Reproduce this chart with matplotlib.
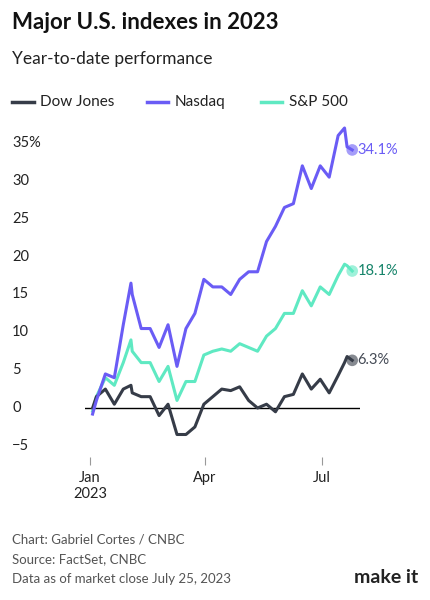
import matplotlib
matplotlib.use('Agg')
import matplotlib.pyplot as plt
import matplotlib.transforms as mtransforms
import numpy as np

plt.rcParams['font.family'] = ['Lato', 'DejaVu Sans']

dates = ['2023-01-03', '2023-01-06', '2023-01-13', '2023-01-20', '2023-01-27',
         '2023-02-02', '2023-02-03', '2023-02-10', '2023-02-17', '2023-02-24',
         '2023-03-03', '2023-03-10', '2023-03-17', '2023-03-24', '2023-03-31',
         '2023-04-07', '2023-04-14', '2023-04-21', '2023-04-28', '2023-05-05',
         '2023-05-12', '2023-05-19', '2023-05-26', '2023-06-02', '2023-06-09',
         '2023-06-16', '2023-06-23', '2023-06-30', '2023-07-07', '2023-07-14',
         '2023-07-19', '2023-07-21', '2023-07-25']
dow = [0, 1.5, 2.5, 0.5, 2.5, 3.0, 2.0, 1.5, 1.5, -1.0, 0.5, -3.5, -3.5, -2.5, 0.5,
       1.5, 2.5, 2.3, 2.8, 1.0, 0.0, 0.5, -0.5, 1.5, 1.8, 4.5, 2.5, 3.8, 2.0, 4.3,
       6.0, 6.8, 6.3]
nasdaq = [-0.8, 1.0, 4.5, 4.0, 11.0, 16.5, 15.0, 10.5, 10.5, 8.0, 11.0, 5.5, 10.5,
          12.5, 17.0, 16.0, 16.0, 15.0, 17.0, 18.0, 18.0, 22.0, 24.0, 26.5, 27.0,
          32.0, 29.0, 32.0, 30.5, 36.0, 37.0, 34.5, 34.1]
sp500 = [-0.4, 1.5, 4.0, 3.0, 6.0, 9.0, 7.5, 6.0, 6.0, 3.5, 5.5, 1.0, 3.5, 3.5, 7.0,
         7.5, 7.8, 7.5, 8.5, 8.0, 7.5, 9.5, 10.5, 12.5, 12.5, 15.5, 13.5, 16.0, 15.0,
         17.5, 19.0, 18.8, 18.1]
yticks = [-5, 0, 5, 10, 15, 20, 25, 30, 35]

x = np.array(dates, dtype='datetime64[D]')
c_dow, c_nas, c_sp = '#363c48', '#6a5cf5', '#5fe9c2'

fig = plt.figure(figsize=(4.31, 6.0), dpi=100)
ax = fig.add_axes([0.197, 0.238, 0.638, 0.555])
ax.set_xlim(np.datetime64('2022-12-28'), np.datetime64('2023-07-31'))
ax.set_ylim(-6.5, 37.5)
for s in ax.spines.values():
    s.set_visible(False)
ax.axhline(0, color='black', lw=1, zorder=1)

for ys, c in [(sp500, c_sp), (dow, c_dow), (nasdaq, c_nas)]:
    ax.plot(x, ys, color=c, lw=2.2, zorder=3)
    ax.scatter(x[-1], ys[-1], s=70, color=c, alpha=0.6, zorder=4, edgecolor='none')

ax.text(x[-1] + 4, nasdaq[-1], '34.1%', color='#6a5cf5', fontsize=10.5, va='center')
ax.text(x[-1] + 4, sp500[-1], '18.1%', color='#16846a', fontsize=10.5, va='center')
ax.text(x[-1] + 4, dow[-1], '6.3%', color='#444a55', fontsize=10.5, va='center')

ax.set_yticks([])
trans = mtransforms.blended_transform_factory(fig.transFigure, ax.transData)
for t in yticks:
    ax.text(0.028, t, f'{t}%' if t == 35 else f'{t}'.replace('-', '\u2212'),
            transform=trans, fontsize=10.5, va='center', ha='left', color='#222')

ax.set_xticks(np.array(['2023-01-01', '2023-04-01', '2023-07-01'], dtype='datetime64[D]'))
ax.set_xticklabels(['Jan\n2023', 'Apr', 'Jul'], fontsize=10.5, color='#222', va='top')
ax.tick_params(axis='x', length=6, color='#999', pad=4)

fig.text(0.028, 0.952, 'Major U.S. indexes in 2023', fontsize=16, fontweight='bold', color='#111')
fig.text(0.028, 0.893, 'Year-to-date performance', fontsize=12.5, color='#222')

# legend
ly = 0.83
for lx, lab, c in [(0.028, 'Dow Jones', c_dow), (0.34, 'Nasdaq', c_nas), (0.605, 'S&P 500', c_sp)]:
    fig.add_artist(plt.Line2D([lx, lx + 0.05], [ly, ly], color=c, lw=2.5))
    fig.text(lx + 0.065, ly, lab, fontsize=11, va='center', color='#222')

fig.text(0.028, 0.095, 'Chart: Gabriel Cortes / CNBC', fontsize=9.5, color='#555')
fig.text(0.028, 0.062, 'Source: FactSet, CNBC', fontsize=9.5, color='#555')
fig.text(0.028, 0.029, 'Data as of market close July 25, 2023', fontsize=9.5, color='#555')
fig.text(0.97, 0.029, 'make it', fontsize=14, fontweight='bold', ha='right', color='#222')

fig.savefig('out.png', dpi=100)
